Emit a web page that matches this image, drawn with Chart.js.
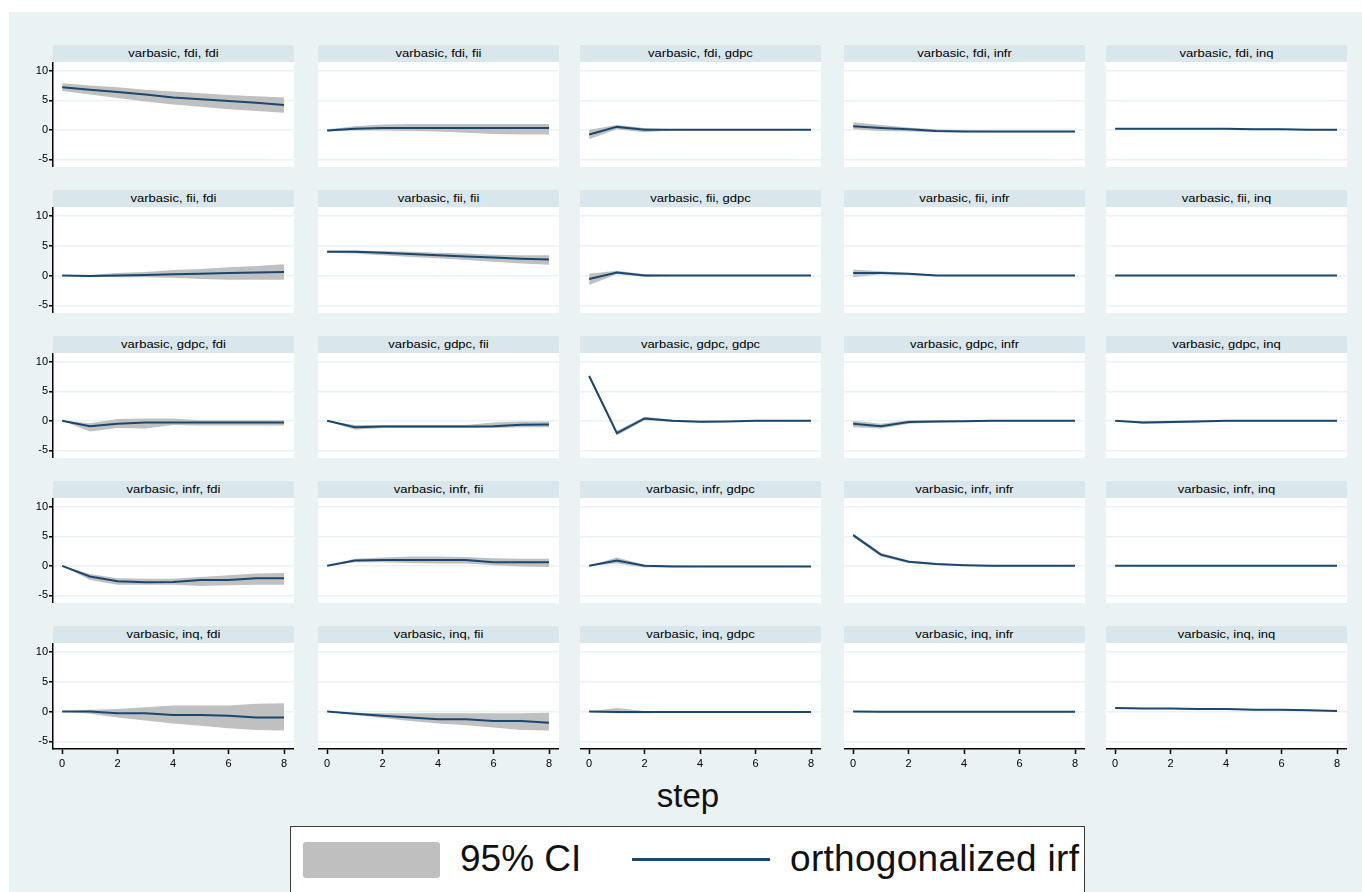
<!DOCTYPE html>
<html>
<head>
<meta charset="utf-8">
<script src="https://cdn.jsdelivr.net/npm/chart.js@4.4.1/dist/chart.umd.min.js"></script>
<style>
  html, body { margin: 0; padding: 0; width: 1362px; height: 892px; overflow: hidden; background: #ffffff; font-family: 'Liberation Sans', Arial, sans-serif; }
  #region { position: absolute; left: 9px; top: 12px; width: 1353px; height: 880px; background: #eaf2f3; }
  .strip { position: absolute; height: 17px; background: #d9e6eb; border-radius: 2px 2px 0 0; overflow: hidden; }
  .strip span { position: absolute; left: 0; right: 0; top: 3px; text-align: center; font-size: 10px; line-height: 11px; color: #000; transform: scaleX(1.3); white-space: nowrap; }
  canvas { position: absolute; }
  #xtitle { position: absolute; left: 588px; width: 200px; top: 777px; text-align: center; font-size: 33px; color: #111; }
  #legend { position: absolute; left: 290px; top: 826px; width: 793px; height: 80px; background: #fff; border: 1.5px solid #3a3a3a; }
  #legend .swatch { position: absolute; left: 12px; top: 15px; width: 137px; height: 36px; background: #bfbfbf; border-radius: 3px; }
  #legend .txt { position: absolute; top: 11px; font-size: 37px; line-height: 42px; color: #111; white-space: nowrap; }
  #legend .ln { position: absolute; left: 341px; top: 31px; width: 138px; height: 3px; background: #1a476f; }
</style>
</head>
<body>
<div id="region"></div>
<div id="xtitle">step</div>
<div id="legend">
  <div class="swatch"></div>
  <div class="txt" style="left:169px">95% CI</div>
  <div class="ln"></div>
  <div class="txt" style="left:499px; letter-spacing:0.3px">orthogonalized irf</div>
</div>
<script>
// Impulse-response horizon and variable names
const steps = [0, 1, 2, 3, 4, 5, 6, 7, 8];
const vars = ['fdi', 'fii', 'gdpc', 'infr', 'inq'];
const irfName = 'varbasic';
const xTicks = [0, 2, 4, 6, 8];
const yTicks = [-5, 0, 5, 10];

// Orthogonalized IRF and 95% bounds, impulse -> response
const irf_fdi_fdi = [7.2, 6.8, 6.4, 6.0, 5.5, 5.2, 4.9, 4.6, 4.2];
const lo_fdi_fdi  = [6.6, 6.0, 5.4, 4.8, 4.3, 3.9, 3.5, 3.2, 2.9];
const hi_fdi_fdi  = [7.9, 7.5, 7.2, 6.8, 6.5, 6.2, 5.9, 5.7, 5.5];

const irf_fdi_fii = [-0.1, 0.2, 0.3, 0.3, 0.3, 0.3, 0.3, 0.3, 0.3];
const lo_fdi_fii  = [-0.3, -0.1, -0.1, -0.2, -0.3, -0.5, -0.7, -0.8, -0.8];
const hi_fdi_fii  = [0.1, 0.6, 0.9, 1.0, 1.0, 1.0, 1.0, 1.0, 1.0];

const irf_fdi_gdpc = [-0.8, 0.5, 0.0, 0.0, 0.0, 0.0, 0.0, 0.0, 0.0];
const lo_fdi_gdpc  = [-1.6, 0.1, -0.4, -0.1, -0.1, -0.1, -0.1, -0.1, -0.1];
const hi_fdi_gdpc  = [0.0, 0.8, 0.3, 0.1, 0.1, 0.1, 0.1, 0.1, 0.1];

const irf_fdi_infr = [0.6, 0.3, 0.1, -0.2, -0.3, -0.3, -0.3, -0.3, -0.3];
const lo_fdi_infr  = [0.1, -0.2, -0.3, -0.4, -0.4, -0.4, -0.4, -0.4, -0.4];
const hi_fdi_infr  = [1.3, 0.8, 0.4, 0.1, -0.1, -0.2, -0.2, -0.2, -0.2];

const irf_fdi_inq = [0.2, 0.2, 0.2, 0.2, 0.2, 0.1, 0.1, 0.0, 0.0];
const lo_fdi_inq  = [0.1, 0.1, 0.1, 0.1, 0.1, 0.0, 0.0, -0.1, -0.1];
const hi_fdi_inq  = [0.3, 0.3, 0.3, 0.3, 0.3, 0.2, 0.2, 0.1, 0.1];

const irf_fii_fdi = [0.0, -0.1, 0.0, 0.1, 0.2, 0.3, 0.4, 0.5, 0.6];
const lo_fii_fdi  = [0.0, -0.2, -0.3, -0.3, -0.4, -0.6, -0.7, -0.7, -0.7];
const hi_fii_fdi  = [0.0, 0.1, 0.4, 0.6, 0.9, 1.1, 1.4, 1.6, 1.9];

const irf_fii_fii = [4.0, 4.0, 3.8, 3.6, 3.4, 3.2, 3.0, 2.8, 2.7];
const lo_fii_fii  = [3.8, 3.7, 3.4, 3.1, 2.9, 2.6, 2.3, 2.0, 1.8];
const hi_fii_fii  = [4.2, 4.2, 4.1, 4.0, 3.8, 3.7, 3.5, 3.4, 3.4];

const irf_fii_gdpc = [-0.6, 0.5, 0.0, 0.0, 0.0, 0.0, 0.0, 0.0, 0.0];
const lo_fii_gdpc  = [-1.6, 0.2, -0.2, -0.1, -0.1, -0.1, -0.1, -0.1, -0.1];
const hi_fii_gdpc  = [0.3, 0.8, 0.2, 0.1, 0.1, 0.1, 0.1, 0.1, 0.1];

const irf_fii_infr = [0.4, 0.4, 0.3, 0.0, 0.0, 0.0, 0.0, 0.0, 0.0];
const lo_fii_infr  = [-0.3, 0.2, 0.1, -0.1, -0.1, -0.1, -0.1, -0.1, -0.1];
const hi_fii_infr  = [1.0, 0.7, 0.4, 0.1, 0.1, 0.1, 0.1, 0.1, 0.1];

const irf_fii_inq = [0.0, 0.0, 0.0, 0.0, 0.0, 0.0, 0.0, 0.0, 0.0];
const lo_fii_inq  = [-0.05, -0.05, -0.05, -0.05, -0.05, -0.05, -0.05, -0.05, -0.05];
const hi_fii_inq  = [0.05, 0.05, 0.05, 0.05, 0.05, 0.05, 0.05, 0.05, 0.05];

const irf_gdpc_fdi = [0.0, -0.9, -0.5, -0.3, -0.3, -0.3, -0.3, -0.3, -0.3];
const lo_gdpc_fdi  = [0.0, -1.8, -1.2, -1.3, -0.7, -0.8, -0.8, -0.8, -0.8];
const hi_gdpc_fdi  = [0.0, -0.4, 0.3, 0.4, 0.4, 0.1, 0.1, 0.1, 0.1];

const irf_gdpc_fii = [0.0, -1.1, -0.95, -0.95, -0.95, -0.95, -0.9, -0.65, -0.6];
const lo_gdpc_fii  = [0.0, -1.5, -1.2, -1.2, -1.2, -1.2, -1.2, -1.1, -1.1];
const hi_gdpc_fii  = [0.0, -0.7, -0.7, -0.7, -0.7, -0.7, -0.3, -0.1, -0.1];

const irf_gdpc_gdpc = [7.6, -2.1, 0.4, 0.0, -0.15, -0.1, 0.0, 0.0, 0.0];
const lo_gdpc_gdpc  = [7.3, -2.5, 0.1, -0.2, -0.3, -0.2, -0.1, -0.1, -0.1];
const hi_gdpc_gdpc  = [7.9, -1.7, 0.7, 0.2, 0.0, 0.0, 0.1, 0.1, 0.1];

const irf_gdpc_infr = [-0.5, -0.9, -0.2, -0.1, -0.05, 0.0, 0.0, 0.0, 0.0];
const lo_gdpc_infr  = [-1.1, -1.3, -0.5, -0.3, -0.2, -0.1, -0.1, -0.1, -0.1];
const hi_gdpc_infr  = [0.0, -0.5, 0.1, 0.1, 0.1, 0.1, 0.1, 0.1, 0.1];

const irf_gdpc_inq = [0.0, -0.3, -0.2, -0.1, 0.0, 0.0, 0.0, 0.0, 0.0];
const lo_gdpc_inq  = [0.0, -0.5, -0.4, -0.2, -0.1, -0.1, -0.1, -0.1, -0.1];
const hi_gdpc_inq  = [0.0, -0.1, 0.0, 0.1, 0.1, 0.1, 0.1, 0.1, 0.1];

const irf_infr_fdi = [0.0, -1.8, -2.6, -2.8, -2.75, -2.4, -2.4, -2.1, -2.1];
const lo_infr_fdi  = [0.0, -2.4, -3.2, -3.2, -3.2, -3.4, -3.3, -3.2, -3.2];
const hi_infr_fdi  = [0.0, -1.4, -2.1, -2.2, -2.2, -1.9, -1.6, -1.3, -1.2];

const irf_infr_fii = [0.0, 0.9, 1.0, 1.0, 1.0, 1.0, 0.6, 0.6, 0.6];
const lo_infr_fii  = [0.0, 0.6, 0.6, 0.5, 0.4, 0.4, 0.1, -0.1, -0.2];
const hi_infr_fii  = [0.0, 1.2, 1.4, 1.6, 1.6, 1.5, 1.3, 1.2, 1.2];

const irf_infr_gdpc = [0.0, 0.9, 0.0, -0.1, -0.1, -0.1, -0.1, -0.1, -0.1];
const lo_infr_gdpc  = [0.0, 0.4, -0.3, -0.2, -0.2, -0.2, -0.2, -0.2, -0.2];
const hi_infr_gdpc  = [0.0, 1.4, 0.2, 0.1, 0.0, 0.0, 0.0, 0.0, 0.0];

const irf_infr_infr = [5.2, 1.9, 0.7, 0.3, 0.1, 0.0, 0.0, 0.0, 0.0];
const lo_infr_infr  = [4.9, 1.6, 0.5, 0.15, 0.0, -0.1, -0.1, -0.1, -0.1];
const hi_infr_infr  = [5.5, 2.2, 0.9, 0.45, 0.2, 0.1, 0.1, 0.1, 0.1];

const irf_infr_inq = [0.0, 0.0, 0.0, 0.0, 0.0, 0.0, 0.0, 0.0, 0.0];
const lo_infr_inq  = [-0.05, -0.05, -0.05, -0.05, -0.05, -0.05, -0.05, -0.05, -0.05];
const hi_infr_inq  = [0.05, 0.05, 0.05, 0.05, 0.05, 0.05, 0.05, 0.05, 0.05];

const irf_inq_fdi = [0.0, 0.0, -0.3, -0.3, -0.6, -0.6, -0.7, -1.0, -1.0];
const lo_inq_fdi  = [0.0, -0.4, -1.0, -1.5, -2.0, -2.4, -2.8, -3.1, -3.2];
const hi_inq_fdi  = [0.0, 0.3, 0.4, 0.7, 1.0, 1.0, 1.0, 1.3, 1.4];

const irf_inq_fii = [0.0, -0.4, -0.7, -1.0, -1.3, -1.3, -1.6, -1.6, -1.9];
const lo_inq_fii  = [0.0, -0.6, -1.1, -1.6, -2.0, -2.3, -2.7, -3.1, -3.2];
const hi_inq_fii  = [0.0, -0.2, -0.3, -0.3, -0.3, -0.3, -0.3, -0.3, -0.2];

const irf_inq_gdpc = [0.0, -0.1, -0.1, -0.1, -0.1, -0.1, -0.1, -0.1, -0.1];
const lo_inq_gdpc  = [0.0, -0.3, -0.3, -0.2, -0.2, -0.2, -0.2, -0.2, -0.2];
const hi_inq_gdpc  = [0.0, 0.6, 0.1, 0.1, 0.1, 0.1, 0.1, 0.1, 0.1];

const irf_inq_infr = [0.0, -0.05, -0.05, -0.05, -0.05, -0.05, -0.05, -0.05, -0.05];
const lo_inq_infr  = [-0.05, -0.15, -0.15, -0.15, -0.15, -0.15, -0.15, -0.15, -0.15];
const hi_inq_infr  = [0.05, 0.05, 0.05, 0.05, 0.05, 0.05, 0.05, 0.05, 0.05];

const irf_inq_inq = [0.6, 0.5, 0.5, 0.4, 0.4, 0.3, 0.3, 0.2, 0.1];
const lo_inq_inq  = [0.5, 0.4, 0.4, 0.3, 0.3, 0.2, 0.2, 0.1, 0.0];
const hi_inq_inq  = [0.7, 0.6, 0.6, 0.5, 0.5, 0.4, 0.4, 0.3, 0.2];

// Lookup of the arrays above by impulse/response pair
const series = {
  fdi_fdi: [irf_fdi_fdi, lo_fdi_fdi, hi_fdi_fdi], fdi_fii: [irf_fdi_fii, lo_fdi_fii, hi_fdi_fii],
  fdi_gdpc: [irf_fdi_gdpc, lo_fdi_gdpc, hi_fdi_gdpc], fdi_infr: [irf_fdi_infr, lo_fdi_infr, hi_fdi_infr],
  fdi_inq: [irf_fdi_inq, lo_fdi_inq, hi_fdi_inq],
  fii_fdi: [irf_fii_fdi, lo_fii_fdi, hi_fii_fdi], fii_fii: [irf_fii_fii, lo_fii_fii, hi_fii_fii],
  fii_gdpc: [irf_fii_gdpc, lo_fii_gdpc, hi_fii_gdpc], fii_infr: [irf_fii_infr, lo_fii_infr, hi_fii_infr],
  fii_inq: [irf_fii_inq, lo_fii_inq, hi_fii_inq],
  gdpc_fdi: [irf_gdpc_fdi, lo_gdpc_fdi, hi_gdpc_fdi], gdpc_fii: [irf_gdpc_fii, lo_gdpc_fii, hi_gdpc_fii],
  gdpc_gdpc: [irf_gdpc_gdpc, lo_gdpc_gdpc, hi_gdpc_gdpc], gdpc_infr: [irf_gdpc_infr, lo_gdpc_infr, hi_gdpc_infr],
  gdpc_inq: [irf_gdpc_inq, lo_gdpc_inq, hi_gdpc_inq],
  infr_fdi: [irf_infr_fdi, lo_infr_fdi, hi_infr_fdi], infr_fii: [irf_infr_fii, lo_infr_fii, hi_infr_fii],
  infr_gdpc: [irf_infr_gdpc, lo_infr_gdpc, hi_infr_gdpc], infr_infr: [irf_infr_infr, lo_infr_infr, hi_infr_infr],
  infr_inq: [irf_infr_inq, lo_infr_inq, hi_infr_inq],
  inq_fdi: [irf_inq_fdi, lo_inq_fdi, hi_inq_fdi], inq_fii: [irf_inq_fii, lo_inq_fii, hi_inq_fii],
  inq_gdpc: [irf_inq_gdpc, lo_inq_gdpc, hi_inq_gdpc], inq_infr: [irf_inq_infr, lo_inq_infr, hi_inq_infr],
  inq_inq: [irf_inq_inq, lo_inq_inq, hi_inq_inq]
};

// Panel grid geometry (page pixels)
const COL_X = [53, 318, 580, 844, 1106];
const PLOT_W = 241;
const STRIP_TOP = [45, 190, 336, 481, 626];
const STRIP_H = 17;
const PLOT_BOTTOM = [167, 313, 458, 603, 749];
const Y_AXIS_W = 44;
const X_AXIS_H = 28;

const LINE_COLOR = '#1a476f';
const CI_COLOR = '#c0c0c0';
const GRID_COLOR = '#eaf2f3';
const TICK_FONT = { family: "'Liberation Sans', Arial, sans-serif", size: 11 };

// White plot region behind the data
const plotBg = {
  id: 'plotBg',
  beforeDraw(chart) {
    const { ctx, chartArea: a } = chart;
    ctx.save();
    ctx.fillStyle = '#ffffff';
    ctx.fillRect(a.left, a.top, a.right - a.left, a.bottom - a.top);
    ctx.restore();
  }
};

const pts = arr => steps.map((s, i) => ({ x: s, y: arr[i] }));

// Axes keep exactly the size given to them, with no label overhang padding
function fixSize(prop, size) {
  return s => {
    s[prop] = size;
    s.paddingTop = 0; s.paddingBottom = 0; s.paddingLeft = 0; s.paddingRight = 0;
  };
}

function makePanel(r, c) {
  const imp = vars[r], resp = vars[c];
  const [irf, lo, hi] = series[imp + '_' + resp];
  const showY = c === 0, showX = r === vars.length - 1;
  const plotTop = STRIP_TOP[r] + STRIP_H;
  const padL = showY ? Y_AXIS_W : 0;
  const padB = showX ? X_AXIS_H : 0;

  const strip = document.createElement('div');
  strip.className = 'strip';
  strip.style.left = COL_X[c] + 'px';
  strip.style.top = STRIP_TOP[r] + 'px';
  strip.style.width = PLOT_W + 'px';
  const label = document.createElement('span');
  label.textContent = irfName + ', ' + imp + ', ' + resp;
  strip.appendChild(label);
  document.body.appendChild(strip);

  const cv = document.createElement('canvas');
  cv.width = PLOT_W + padL;
  cv.height = PLOT_BOTTOM[r] - plotTop + padB;
  cv.style.left = (COL_X[c] - padL) + 'px';
  cv.style.top = plotTop + 'px';
  document.body.appendChild(cv);

  new Chart(cv, {
    type: 'line',
    data: {
      datasets: [
        { label: 'orthogonalized irf', data: pts(irf), borderColor: LINE_COLOR, borderWidth: 2,
          pointRadius: 0, fill: false, tension: 0, order: 0 },
        { label: '95% CI upper', data: pts(hi), borderWidth: 0, borderColor: 'rgba(0,0,0,0)',
          backgroundColor: CI_COLOR, pointRadius: 0, fill: '+1', tension: 0, order: 1 },
        { label: '95% CI lower', data: pts(lo), borderWidth: 0, borderColor: 'rgba(0,0,0,0)',
          backgroundColor: CI_COLOR, pointRadius: 0, fill: false, tension: 0, order: 2 }
      ]
    },
    options: {
      responsive: false,
      animation: false,
      devicePixelRatio: 1,
      layout: { padding: 0, autoPadding: false },
      plugins: { legend: { display: false }, tooltip: { enabled: false } },
      scales: {
        x: {
          type: 'linear', min: -0.33, max: 8.36,
          afterBuildTicks: s => { s.ticks = xTicks.map(v => ({ value: v })); },
          afterFit: fixSize('height', padB),
          border: { display: showX, color: '#000', width: 1.5 },
          grid: { drawOnChartArea: false, drawTicks: showX, tickLength: 5, tickColor: '#000', tickWidth: 1.5 },
          ticks: { display: showX, font: TICK_FONT, color: '#000', padding: 3, maxRotation: 0 }
        },
        y: {
          type: 'linear', min: -6.3, max: 11.5,
          afterBuildTicks: s => { s.ticks = yTicks.map(v => ({ value: v })); },
          afterFit: fixSize('width', padL),
          border: { display: showY, color: '#000', width: 1.5 },
          grid: { color: GRID_COLOR, lineWidth: 1.5, drawTicks: showY, tickLength: 4, tickColor: '#000', tickWidth: 1.5 },
          ticks: { display: showY, font: TICK_FONT, color: '#000', padding: 1 }
        }
      }
    },
    plugins: [plotBg]
  });
}

for (let r = 0; r < vars.length; r++) {
  for (let c = 0; c < vars.length; c++) makePanel(r, c);
}
</script>
</body>
</html>
